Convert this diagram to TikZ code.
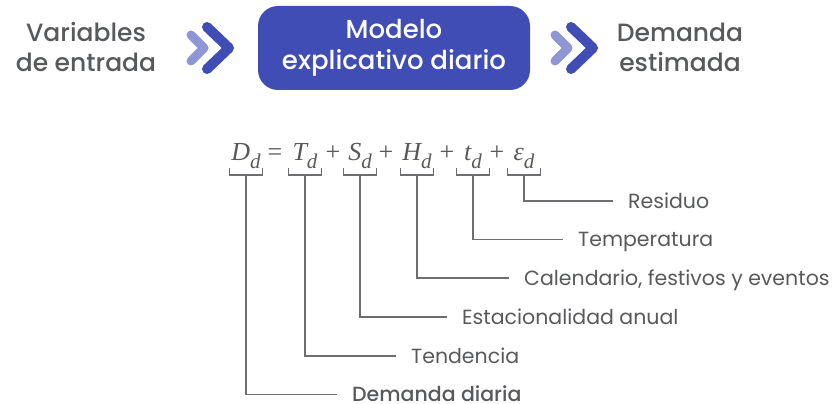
\documentclass[tikz,border=0pt]{standalone}
\usepackage{fontspec}
\setmainfont{Poppins}
\newfontfamily\eqfont{Liberation Serif}
\newfontfamily\medfont{Poppins Medium}
\definecolor{txtgray}{HTML}{58595B}
\definecolor{linegray}{HTML}{6D6E71}
\definecolor{boxblue}{HTML}{3F4DB5}
\definecolor{lightblue}{HTML}{8F96D6}
\newcommand{\eqsub}[1]{\raisebox{-9pt}{\fontsize{21}{21}\selectfont #1}}
\tikzset{
  toptext/.style={text=txtgray, align=center, font=\medfont\fontsize{25}{30}\selectfont, inner sep=0pt},
  modelbox/.style={fill=boxblue, text=white, rounded corners=20pt, align=center,
    minimum width=272pt, minimum height=84pt, font=\medfont\fontsize{26}{31}\selectfont, inner sep=0pt},
  chevdark/.style={draw=boxblue, line width=10pt, line cap=round, line join=round},
  chevlight/.style={draw=lightblue, line width=9pt, line cap=round, line join=round},
  eqterm/.style={text=txtgray, anchor=base, inner sep=0pt, font=\eqfont\itshape\fontsize{26}{26}\selectfont},
  eqsign/.style={text=txtgray, anchor=base, inner sep=0pt, font=\eqfont\fontsize{26}{26}\selectfont},
  lbl/.style={text=txtgray, anchor=base west, inner sep=0pt, font=\fontsize{20.5}{24}\selectfont},
  conn/.style={draw=linegray, line width=1.3pt, shorten >=15pt},
  brk/.style={draw=linegray, line width=1.3pt}
}
\begin{document}
\begin{tikzpicture}[x=1pt,y=-1pt]
\useasboundingbox (0,0) rectangle (836,404);
% top row
\node[toptext] (vin) at (86,47) {Variables\\de entrada};
\node[modelbox] (model) at (394,48) {Modelo\\explicativo diario};
\node[toptext] (dout) at (680,47) {Demanda\\estimada};
\foreach \dx in {0,364}{
  \draw[chevlight] (191+\dx,35) -- (204+\dx,48) -- (191+\dx,61);
  \draw[chevdark] (207+\dx,27) -- (229+\dx,48) -- (207+\dx,69);
}
% equation
\node[eqterm] (tD) at (246,160) {D\eqsub{d}};
\node[eqsign] (eq) at (275,160) {=};
\node[eqterm] (tT) at (305,160) {T\eqsub{d}};
\node[eqsign] (p1) at (333,160) {+};
\node[eqterm] (tS) at (360,160) {S\eqsub{d}};
\node[eqsign] (p2) at (386,160) {+};
\node[eqterm] (tH) at (417,160) {H\eqsub{d}};
\node[eqsign] (p3) at (447,160) {+};
\node[eqterm] (tt) at (473,160) {t\eqsub{d}};
\node[eqsign] (p4) at (497,160) {+};
\node[eqterm] (te) at (524,160) {ε\eqsub{d}};
% bracket coordinates
\coordinate (bD) at (246,175);
\coordinate (bT) at (305,175);
\coordinate (bS) at (360,175);
\coordinate (bH) at (417,175);
\coordinate (bt) at (473,175);
\coordinate (be) at (524,175);
\foreach \b in {bD,bT,bS,bH,bt,be}{
  \draw[brk] (\b) ++(-16.5,-7) -- ++(0,7) -- ++(33,0) -- ++(0,-7);
}
% labels (baseline 7pt below the connector line)
\node[lbl] (le) at (628,208) {Residuo};
\node[lbl] (lt) at (578,246.5) {Temperatura};
\node[lbl] (lH) at (524,285) {Calendario, festivos y eventos};
\node[lbl] (lS) at (462,324) {Estacionalidad anual};
\node[lbl] (lT) at (411,363) {Tendencia};
\node[lbl, font=\medfont\fontsize{20.5}{24}\selectfont] (lD) at (352,401.5) {Demanda diaria};
% connectors
\draw[conn] (be) |- ([yshift=7pt]le.base west);
\draw[conn] (bt) |- ([yshift=7pt]lt.base west);
\draw[conn] (bH) |- ([yshift=7pt]lH.base west);
\draw[conn] (bS) |- ([yshift=7pt]lS.base west);
\draw[conn] (bT) |- ([yshift=7pt]lT.base west);
\draw[conn] (bD) |- ([yshift=7pt]lD.base west);
\end{tikzpicture}
\end{document}
